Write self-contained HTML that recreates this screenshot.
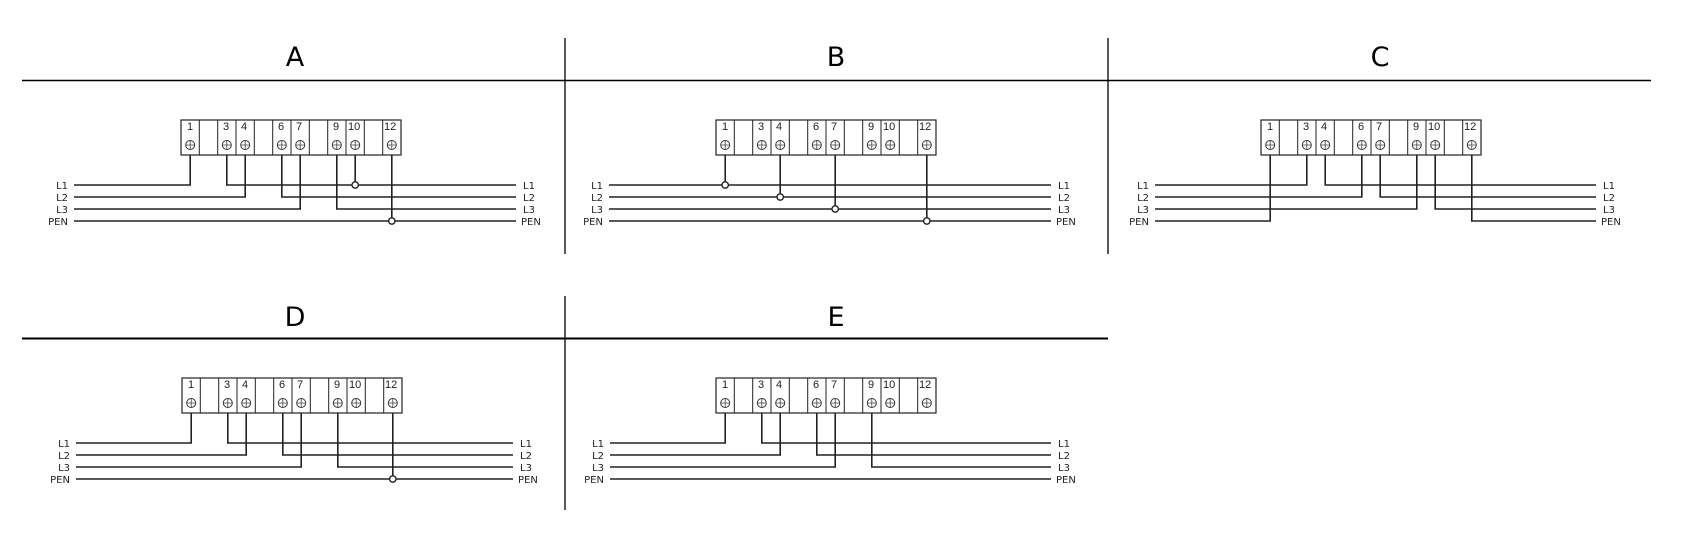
<!DOCTYPE html>
<html><head><meta charset="utf-8"><style>
html,body{margin:0;padding:0;background:#fff;}
svg{display:block}
.n{font-family:"Liberation Sans",sans-serif;font-size:11px;fill:#222}
.lb{font-family:"DejaVu Sans","Liberation Sans",sans-serif;font-size:10px;fill:#222}
.h{font-family:"DejaVu Sans","Liberation Sans",sans-serif;font-size:27px;fill:#000}
.w{fill:none;stroke:#222;stroke-width:1.6}
.b{fill:#fff;stroke:#222;stroke-width:1.2}
.s{fill:#fff;stroke:#333;stroke-width:1}
.j{fill:#fff;stroke:#222;stroke-width:1.4}
</style></head><body>
<svg width="1694" height="546" viewBox="0 0 1694 546" xmlns="http://www.w3.org/2000/svg">
<defs></defs>
<text class="h" x="295" y="66" text-anchor="middle">A</text>
<text class="h" x="836" y="66" text-anchor="middle">B</text>
<text class="h" x="1380" y="66" text-anchor="middle">C</text>
<text class="h" x="295" y="326" text-anchor="middle">D</text>
<text class="h" x="836" y="326" text-anchor="middle">E</text>
<line x1="22" y1="80.5" x2="1651" y2="80.5" stroke="#000" stroke-width="1.5"/>
<line x1="22" y1="338.5" x2="1108" y2="338.5" stroke="#000" stroke-width="2"/>
<line x1="565" y1="38" x2="565" y2="254" stroke="#000" stroke-width="1.3"/>
<line x1="1108" y1="38" x2="1108" y2="254" stroke="#000" stroke-width="1.3"/>
<line x1="565" y1="296" x2="565" y2="510" stroke="#000" stroke-width="1.3"/>

<!-- Panel A -->
<g transform="translate(181,120)">
<path class="w" d="M-107 65H9.2V35M45.8 35V65H335M174.2 35V65M-107 77H64.2V35M100.8 35V77H335M-107 89H119.2V35M155.8 35V89H335M-107 101H335M210.8 35V101"/>
<circle class="j" cx="174.2" cy="65" r="3.2"/><circle class="j" cx="210.8" cy="101" r="3.2"/>
<rect class="b" x="0" y="0" width="220" height="35"/>
<path stroke="#222" stroke-width="1" d="M18.3 0V35M36.7 0V35M55 0V35M73.3 0V35M91.7 0V35M110 0V35M128.3 0V35M146.7 0V35M165 0V35M183.3 0V35M201.7 0V35"/>
<g class="s"><circle cx="9.2" cy="25" r="4.5"/><circle cx="45.8" cy="25" r="4.5"/><circle cx="64.2" cy="25" r="4.5"/><circle cx="100.8" cy="25" r="4.5"/><circle cx="119.2" cy="25" r="4.5"/><circle cx="155.8" cy="25" r="4.5"/><circle cx="174.2" cy="25" r="4.5"/><circle cx="210.8" cy="25" r="4.5"/></g>
<path stroke="#444" stroke-width="0.8" d="M4.7 25h9M9.2 20.5v9M41.3 25h9M45.8 20.5v9M59.7 25h9M64.2 20.5v9M96.3 25h9M100.8 20.5v9M114.7 25h9M119.2 20.5v9M151.3 25h9M155.8 20.5v9M169.7 25h9M174.2 20.5v9M206.3 25h9M210.8 20.5v9"/>
<text class="n" y="10"><tspan x="6">1</tspan><tspan x="42">3</tspan><tspan x="60">4</tspan><tspan x="97">6</tspan><tspan x="115">7</tspan><tspan x="152">9</tspan><tspan x="167">10</tspan><tspan x="203">12</tspan></text>
<text class="lb" text-anchor="end"><tspan x="-113" y="69">L1</tspan><tspan x="-113" y="81">L2</tspan><tspan x="-113" y="93">L3</tspan><tspan x="-113" y="105">PEN</tspan></text>
<text class="lb"><tspan x="342" y="69">L1</tspan><tspan x="342" y="81">L2</tspan><tspan x="342" y="93">L3</tspan><tspan x="340" y="105">PEN</tspan></text>
</g>

<!-- Panel B -->
<g transform="translate(716,120)">
<path class="w" d="M-107 65H335M-107 77H335M-107 89H335M-107 101H335M9.2 35V65M64.2 35V77M119.2 35V89M210.8 35V101"/>
<circle class="j" cx="9.2" cy="65" r="3.2"/><circle class="j" cx="64.2" cy="77" r="3.2"/><circle class="j" cx="119.2" cy="89" r="3.2"/><circle class="j" cx="210.8" cy="101" r="3.2"/>
<rect class="b" x="0" y="0" width="220" height="35"/>
<path stroke="#222" stroke-width="1" d="M18.3 0V35M36.7 0V35M55 0V35M73.3 0V35M91.7 0V35M110 0V35M128.3 0V35M146.7 0V35M165 0V35M183.3 0V35M201.7 0V35"/>
<g class="s"><circle cx="9.2" cy="25" r="4.5"/><circle cx="45.8" cy="25" r="4.5"/><circle cx="64.2" cy="25" r="4.5"/><circle cx="100.8" cy="25" r="4.5"/><circle cx="119.2" cy="25" r="4.5"/><circle cx="155.8" cy="25" r="4.5"/><circle cx="174.2" cy="25" r="4.5"/><circle cx="210.8" cy="25" r="4.5"/></g>
<path stroke="#444" stroke-width="0.8" d="M4.7 25h9M9.2 20.5v9M41.3 25h9M45.8 20.5v9M59.7 25h9M64.2 20.5v9M96.3 25h9M100.8 20.5v9M114.7 25h9M119.2 20.5v9M151.3 25h9M155.8 20.5v9M169.7 25h9M174.2 20.5v9M206.3 25h9M210.8 20.5v9"/>
<text class="n" y="10"><tspan x="6">1</tspan><tspan x="42">3</tspan><tspan x="60">4</tspan><tspan x="97">6</tspan><tspan x="115">7</tspan><tspan x="152">9</tspan><tspan x="167">10</tspan><tspan x="203">12</tspan></text>
<text class="lb" text-anchor="end"><tspan x="-113" y="69">L1</tspan><tspan x="-113" y="81">L2</tspan><tspan x="-113" y="93">L3</tspan><tspan x="-113" y="105">PEN</tspan></text>
<text class="lb"><tspan x="342" y="69">L1</tspan><tspan x="342" y="81">L2</tspan><tspan x="342" y="93">L3</tspan><tspan x="340" y="105">PEN</tspan></text>
</g>

<!-- Panel C -->
<g transform="translate(1261,120)">
<path class="w" d="M-106 65H45.8V35M64.2 35V65H335M-106 77H100.8V35M119.2 35V77H335M-106 89H155.8V35M174.2 35V89H335M-106 101H9.2V35M210.8 35V101H335"/>
<rect class="b" x="0" y="0" width="220" height="35"/>
<path stroke="#222" stroke-width="1" d="M18.3 0V35M36.7 0V35M55 0V35M73.3 0V35M91.7 0V35M110 0V35M128.3 0V35M146.7 0V35M165 0V35M183.3 0V35M201.7 0V35"/>
<g class="s"><circle cx="9.2" cy="25" r="4.5"/><circle cx="45.8" cy="25" r="4.5"/><circle cx="64.2" cy="25" r="4.5"/><circle cx="100.8" cy="25" r="4.5"/><circle cx="119.2" cy="25" r="4.5"/><circle cx="155.8" cy="25" r="4.5"/><circle cx="174.2" cy="25" r="4.5"/><circle cx="210.8" cy="25" r="4.5"/></g>
<path stroke="#444" stroke-width="0.8" d="M4.7 25h9M9.2 20.5v9M41.3 25h9M45.8 20.5v9M59.7 25h9M64.2 20.5v9M96.3 25h9M100.8 20.5v9M114.7 25h9M119.2 20.5v9M151.3 25h9M155.8 20.5v9M169.7 25h9M174.2 20.5v9M206.3 25h9M210.8 20.5v9"/>
<text class="n" y="10"><tspan x="6">1</tspan><tspan x="42">3</tspan><tspan x="60">4</tspan><tspan x="97">6</tspan><tspan x="115">7</tspan><tspan x="152">9</tspan><tspan x="167">10</tspan><tspan x="203">12</tspan></text>
<text class="lb" text-anchor="end"><tspan x="-112" y="69">L1</tspan><tspan x="-112" y="81">L2</tspan><tspan x="-112" y="93">L3</tspan><tspan x="-112" y="105">PEN</tspan></text>
<text class="lb"><tspan x="342" y="69">L1</tspan><tspan x="342" y="81">L2</tspan><tspan x="342" y="93">L3</tspan><tspan x="340" y="105">PEN</tspan></text>
</g>

<!-- Panel D -->
<g transform="translate(182,378)">
<path class="w" d="M-106 65H9.2V35M45.8 35V65H331M-106 77H64.2V35M100.8 35V77H331M-106 89H119.2V35M155.8 35V89H331M-106 101H331M210.8 35V101"/>
<circle class="j" cx="210.8" cy="101" r="3.2"/>
<rect class="b" x="0" y="0" width="220" height="35"/>
<path stroke="#222" stroke-width="1" d="M18.3 0V35M36.7 0V35M55 0V35M73.3 0V35M91.7 0V35M110 0V35M128.3 0V35M146.7 0V35M165 0V35M183.3 0V35M201.7 0V35"/>
<g class="s"><circle cx="9.2" cy="25" r="4.5"/><circle cx="45.8" cy="25" r="4.5"/><circle cx="64.2" cy="25" r="4.5"/><circle cx="100.8" cy="25" r="4.5"/><circle cx="119.2" cy="25" r="4.5"/><circle cx="155.8" cy="25" r="4.5"/><circle cx="174.2" cy="25" r="4.5"/><circle cx="210.8" cy="25" r="4.5"/></g>
<path stroke="#444" stroke-width="0.8" d="M4.7 25h9M9.2 20.5v9M41.3 25h9M45.8 20.5v9M59.7 25h9M64.2 20.5v9M96.3 25h9M100.8 20.5v9M114.7 25h9M119.2 20.5v9M151.3 25h9M155.8 20.5v9M169.7 25h9M174.2 20.5v9M206.3 25h9M210.8 20.5v9"/>
<text class="n" y="10"><tspan x="6">1</tspan><tspan x="42">3</tspan><tspan x="60">4</tspan><tspan x="97">6</tspan><tspan x="115">7</tspan><tspan x="152">9</tspan><tspan x="167">10</tspan><tspan x="203">12</tspan></text>
<text class="lb" text-anchor="end"><tspan x="-112" y="69">L1</tspan><tspan x="-112" y="81">L2</tspan><tspan x="-112" y="93">L3</tspan><tspan x="-112" y="105">PEN</tspan></text>
<text class="lb"><tspan x="338" y="69">L1</tspan><tspan x="338" y="81">L2</tspan><tspan x="338" y="93">L3</tspan><tspan x="336" y="105">PEN</tspan></text>
</g>

<!-- Panel E -->
<g transform="translate(716,378)">
<path class="w" d="M-106 65H9.2V35M45.8 35V65H335M-106 77H64.2V35M100.8 35V77H335M-106 89H119.2V35M155.8 35V89H335M-106 101H335"/>
<rect class="b" x="0" y="0" width="220" height="35"/>
<path stroke="#222" stroke-width="1" d="M18.3 0V35M36.7 0V35M55 0V35M73.3 0V35M91.7 0V35M110 0V35M128.3 0V35M146.7 0V35M165 0V35M183.3 0V35M201.7 0V35"/>
<g class="s"><circle cx="9.2" cy="25" r="4.5"/><circle cx="45.8" cy="25" r="4.5"/><circle cx="64.2" cy="25" r="4.5"/><circle cx="100.8" cy="25" r="4.5"/><circle cx="119.2" cy="25" r="4.5"/><circle cx="155.8" cy="25" r="4.5"/><circle cx="174.2" cy="25" r="4.5"/><circle cx="210.8" cy="25" r="4.5"/></g>
<path stroke="#444" stroke-width="0.8" d="M4.7 25h9M9.2 20.5v9M41.3 25h9M45.8 20.5v9M59.7 25h9M64.2 20.5v9M96.3 25h9M100.8 20.5v9M114.7 25h9M119.2 20.5v9M151.3 25h9M155.8 20.5v9M169.7 25h9M174.2 20.5v9M206.3 25h9M210.8 20.5v9"/>
<text class="n" y="10"><tspan x="6">1</tspan><tspan x="42">3</tspan><tspan x="60">4</tspan><tspan x="97">6</tspan><tspan x="115">7</tspan><tspan x="152">9</tspan><tspan x="167">10</tspan><tspan x="203">12</tspan></text>
<text class="lb" text-anchor="end"><tspan x="-112" y="69">L1</tspan><tspan x="-112" y="81">L2</tspan><tspan x="-112" y="93">L3</tspan><tspan x="-112" y="105">PEN</tspan></text>
<text class="lb"><tspan x="342" y="69">L1</tspan><tspan x="342" y="81">L2</tspan><tspan x="342" y="93">L3</tspan><tspan x="340" y="105">PEN</tspan></text>
</g>
</svg>
</body></html>
